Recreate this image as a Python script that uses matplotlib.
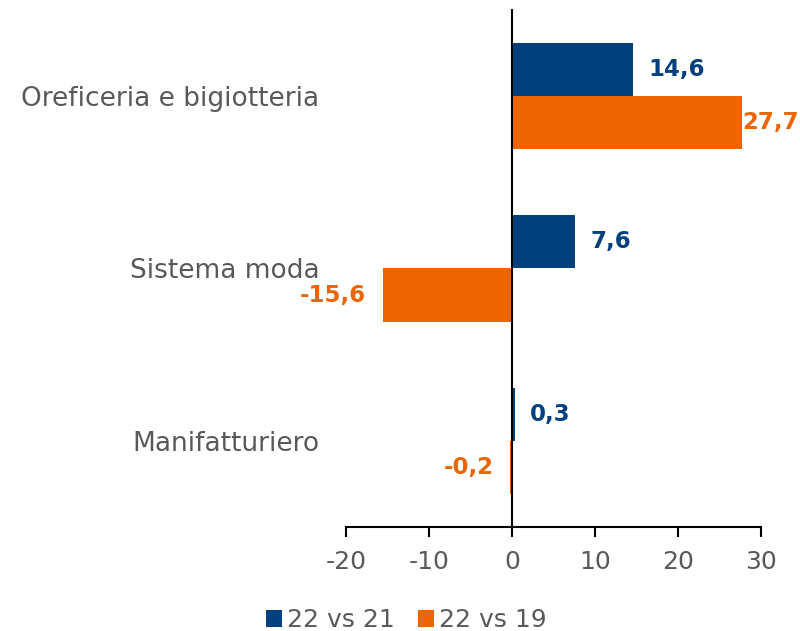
import matplotlib.pyplot as plt
import numpy as np

categories = ['Oreficeria e bigiotteria', 'Sistema moda', 'Manifatturiero']
vs21 = [14.6, 7.6, 0.3]
vs19 = [27.7, -15.6, -0.2]
series_names = ['22 vs 21', '22 vs 19']

blue = '#00407F'
orange = '#EC6500'
grey = '#595959'

plt.rcParams['font.family'] = ['DejaVu Sans']
plt.rcParams['axes.unicode_minus'] = False

fig = plt.figure(figsize=(8, 6.31), dpi=100)
ax = fig.add_axes([0.4325, 0.165, 0.519, 0.819])

y = np.arange(len(categories))
h = 0.308
b1 = ax.barh(y - h / 2, vs21, height=h, color=blue, label=series_names[0], zorder=2)
b2 = ax.barh(y + h / 2, vs19, height=h, color=orange, label=series_names[1], zorder=2)

ax.set_xlim(-20, 30)
ax.set_ylim(2.5, -0.5)
ax.set_xticks([-20, -10, 0, 10, 20, 30])
ax.tick_params(axis='x', direction='out', length=7, width=1.5, colors='black',
               labelcolor=grey, labelsize=18, pad=10)
ax.set_yticks([])

for s in ['top', 'right']:
    ax.spines[s].set_visible(False)
ax.spines['left'].set_position(('data', 0))
ax.spines['left'].set_linewidth(1.5)
ax.spines['left'].set_zorder(3)
ax.spines['bottom'].set_linewidth(1.5)

for i, c in enumerate(categories):
    ax.annotate(c, xy=(0, i), xycoords=('axes fraction', 'data'),
                xytext=(-19, -2), textcoords='offset points',
                ha='right', va='center', fontsize=19, color=grey)

def fmt(v):
    return ('%.1f' % v).replace('.', ',')

for bars, vals, col in [(b1, vs21, blue), (b2, vs19, orange)]:
    for bar, v in zip(bars, vals):
        yc = bar.get_y() + bar.get_height() / 2
        if v >= 0:
            off = 11 if v < 25 else 0
            ax.annotate(fmt(v), xy=(v, yc), xytext=(off, 0), textcoords='offset points',
                        ha='left', va='center', fontsize=16.5, fontweight='bold', color=col)
        else:
            ax.annotate(fmt(v), xy=(v, yc), xytext=(-12, 0), textcoords='offset points',
                        ha='right', va='center', fontsize=16.5, fontweight='bold', color=col)

fig.legend(handles=[b1, b2], loc='center', bbox_to_anchor=(0.508, 0.017), ncol=2,
           frameon=False, fontsize=18, labelcolor=grey, handlelength=0.65,
           handleheight=0.65, handletextpad=0.2, columnspacing=0.9)

fig.savefig('out.png', dpi=100)
